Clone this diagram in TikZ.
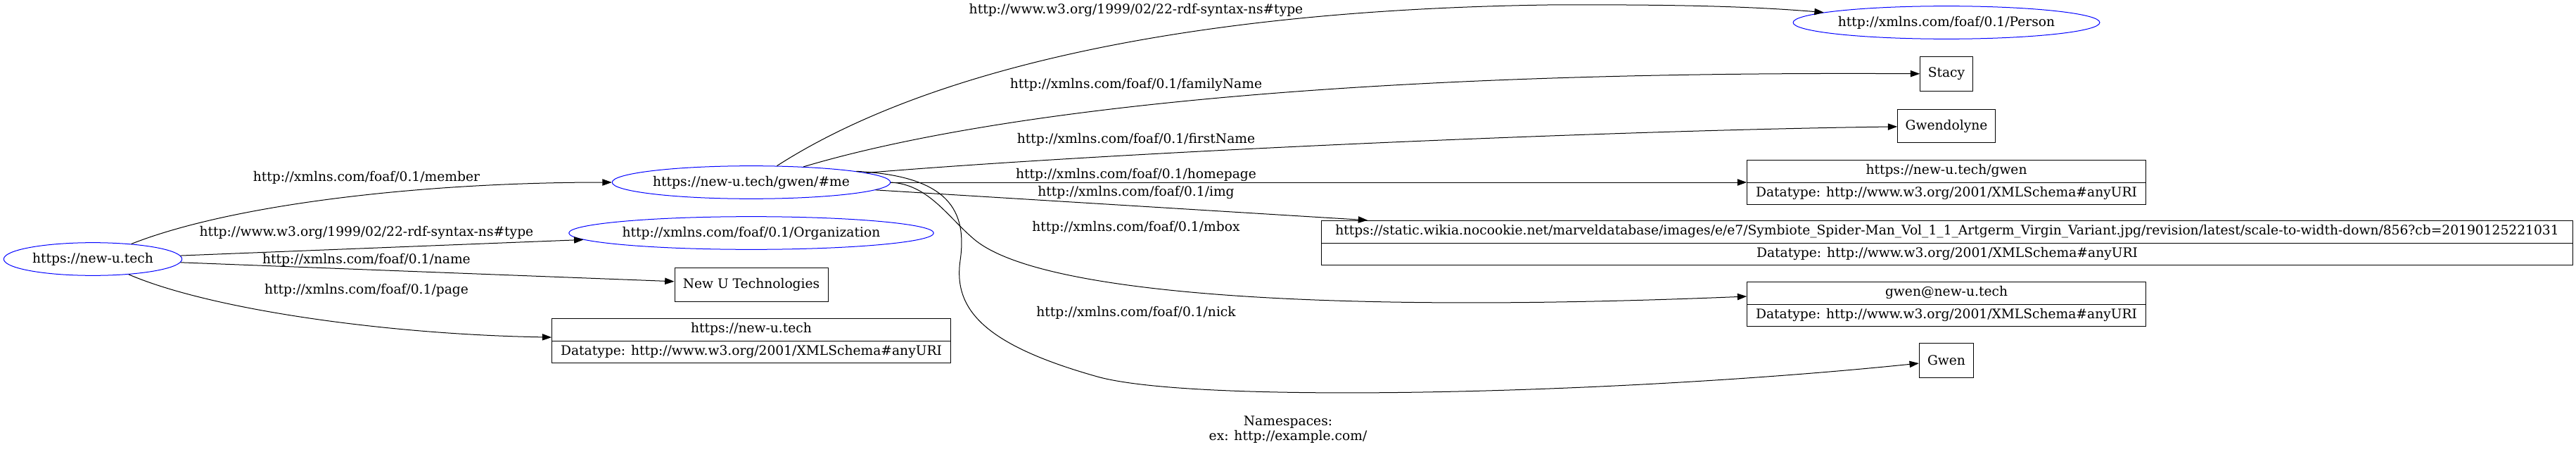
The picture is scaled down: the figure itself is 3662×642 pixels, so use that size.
\documentclass[tikz,border=0pt]{standalone}
\usepackage{fontspec}
\setmainfont{DejaVu Serif}
\usetikzlibrary{arrows.meta,shapes.geometric,shapes.multipart}

\tikzset{
  res/.style={ellipse, draw=blue, line width=0.75pt, inner sep=0pt, minimum height=35pt},
  lit/.style={rectangle, draw, line width=0.75pt, inner sep=0pt, minimum height=36pt},
  dlit/.style={rectangle split, rectangle split parts=2, draw, line width=0.75pt, inner xsep=0pt, inner ysep=3pt, minimum width=425pt},
  prop/.style={inner sep=0pt},
  conn/.style={line width=0.75pt, -{Triangle[length=10pt,width=7pt]}},
}

\begin{document}
\begin{tikzpicture}[x=0.75pt,y=0.75pt,yscale=-1,xscale=1,every node/.style={font=\fontsize{14}{17}\selectfont}]
\useasboundingbox (0,0) rectangle (3662,642);

% Text Node
\draw (132,368) node [res, minimum width=190pt] (newu) {https://new-u.tech};
% Text Node
\draw (1068,259) node [res, minimum width=295pt] (me) {https://new-u.tech/gwen/\#me};
% Text Node
\draw (1068,331) node [res, minimum width=381pt] (org) {http://xmlns.com/foaf/0.1/Organization};
% Text Node
\draw (1068,404) node [lit, minimum width=163.5pt] (nut) {New U Technologies};
% Text Node
\draw (1068,484) node [dlit] (pagelit) {\strut https://new-u.tech \nodepart{two} \strut Datatype: http://www.w3.org/2001/XMLSchema\#anyURI};
% Text Node
\draw (2767,32) node [res, minimum width=323pt] (person) {http://xmlns.com/foaf/0.1/Person};
% Text Node
\draw (2767,105) node [lit, minimum width=56pt, minimum height=37pt] (stacy) {Stacy};
% Text Node
\draw (2767,179) node [lit, minimum width=104pt, minimum height=35pt] (gwendolyne) {Gwendolyne};
% Text Node
\draw (2767,259) node [dlit] (homelit) {\strut https://new-u.tech/gwen \nodepart{two} \strut Datatype: http://www.w3.org/2001/XMLSchema\#anyURI};
% Text Node
\draw (2768,345) node [dlit, minimum width=1334pt] (imglit) {\strut https://static.wikia.nocookie.net/marveldatabase/images/e/e7/Symbiote\_Spider-Man\_Vol\_1\_1\_Artgerm\_Virgin\_Variant.jpg/revision/latest/scale-to-width-down/856?cb=20190125221031 \nodepart{two} \strut Datatype: http://www.w3.org/2001/XMLSchema\#anyURI};
% Text Node
\draw (2767,432) node [dlit] (mboxlit) {\strut gwen@new-u.tech \nodepart{two} \strut Datatype: http://www.w3.org/2001/XMLSchema\#anyURI};
% Text Node
\draw (2767,512) node [lit, minimum width=58pt, minimum height=37pt] (gwen) {Gwen};

% Text Node
\draw (521,252) node [prop] (lmember) {http://xmlns.com/foaf/0.1/member};
% Text Node
\draw (521,330) node [prop] (lorgtype) {http://www.w3.org/1999/02/22-rdf-syntax-ns\#type};
% Text Node
\draw (521,369) node [prop] (lname) {http://xmlns.com/foaf/0.1/name};
% Text Node
\draw (521,412) node [prop] (lpage) {http://xmlns.com/foaf/0.1/page};
% Text Node
\draw (1615,14) node [prop] (lpersontype) {http://www.w3.org/1999/02/22-rdf-syntax-ns\#type};
% Text Node
\draw (1615,120) node [prop] (lfamily) {http://xmlns.com/foaf/0.1/familyName};
% Text Node
\draw (1615,198) node [prop] (lfirst) {http://xmlns.com/foaf/0.1/firstName};
% Text Node
\draw (1615,248) node [prop] (lhome) {http://xmlns.com/foaf/0.1/homepage};
% Text Node
\draw (1615,273) node [prop] (limg) {http://xmlns.com/foaf/0.1/img};
% Text Node
\draw (1615,323) node [prop] (lmbox) {http://xmlns.com/foaf/0.1/mbox};
% Text Node
\draw (1615,444) node [prop] (lnick) {http://xmlns.com/foaf/0.1/nick};
% Text Node
\draw (1831,610) node [prop, align=center, font=\fontsize{14}{16}\selectfont] (ns) {Namespaces:\\ex: http://example.com/};

% Connection
\draw [conn] (newu) .. controls (330,290) and (600,259) .. (me);
% Connection
\draw [conn] (newu) -- (org);
% Connection
\draw [conn] (newu) -- (nut);
% Connection
\draw [conn] (newu) .. controls (300,440) and (550,475) .. (pagelit);
% Connection
\draw [conn] (me) .. controls (1300,110) and (1650,15) .. (2200,7) .. controls (2400,6) and (2500,10) .. (person);
% Connection
\draw [conn] (me) .. controls (1400,160) and (1900,100) .. (stacy);
% Connection
\draw [conn] (me) .. controls (1600,215) and (2300,185) .. (gwendolyne);
% Connection
\draw [conn] (me) -- (homelit);
% Connection
\draw [conn] (me) -- ([xshift=49.5pt]imglit.north west);
% Connection
\draw [conn] (me.east) .. controls (1320,262) and (1347,308) .. (1385,340) .. controls (1480,420) and (1900,445) .. ([yshift=-8.25pt]mboxlit.west);
% Connection
\draw [conn] (me.6) .. controls (1350,250) and (1375,300) .. (1365,370) .. controls (1355,440) and (1400,490) .. (1560,535) .. controls (1700,574) and (2300,560) .. (gwen);

\end{tikzpicture}
\end{document}
